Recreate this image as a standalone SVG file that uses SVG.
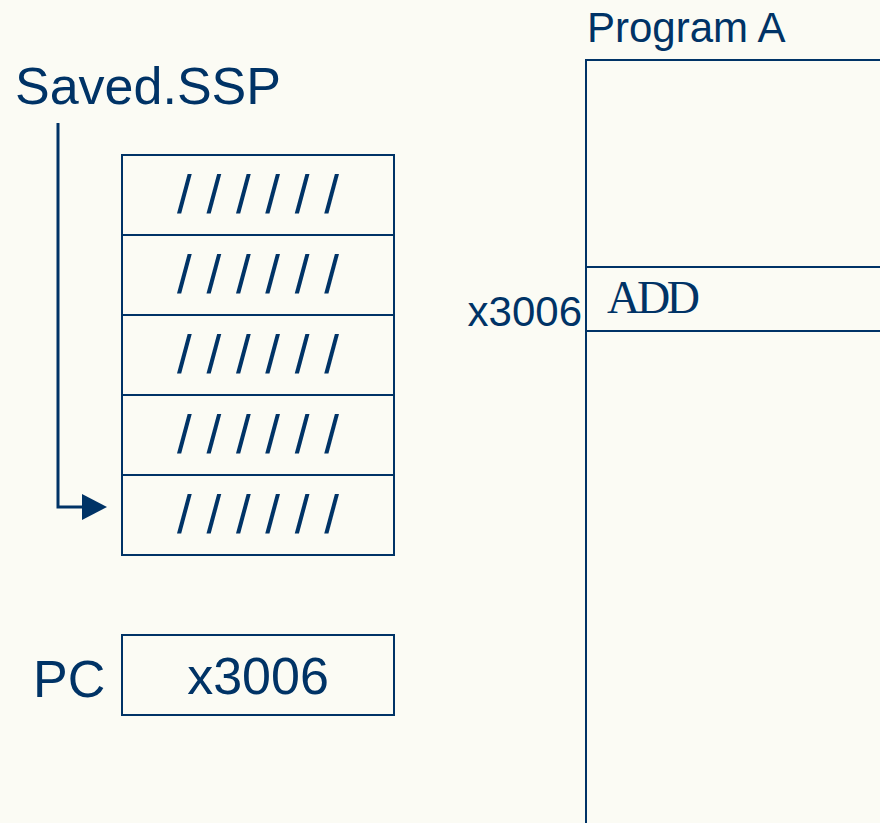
<svg xmlns="http://www.w3.org/2000/svg" width="880" height="823" viewBox="0 0 880 823">
<defs>
<style>
.t{font-family:"Liberation Sans",Arial,sans-serif;fill:#003366}
.m{font-family:"Liberation Serif","Times New Roman",serif;fill:#003366}
.b{fill:none;stroke:#003366;stroke-width:2}
.c{fill:none;stroke:#003366;stroke-width:3}
</style>
<marker id="ah" markerWidth="26" markerHeight="26" refX="0" refY="13" orient="auto" markerUnits="userSpaceOnUse">
<path d="M0,0 L25,13 L0,26 Z" fill="#003366"/>
</marker>
</defs>
<rect width="880" height="823" fill="#fbfbf4"/>
<g id="saved-ssp-label"><text class="t" x="15" y="104" font-size="52">Saved.SSP</text></g>
<g id="stack">
<rect class="b" x="122" y="155" width="272" height="400"/>
<line class="b" x1="122" y1="235" x2="394" y2="235"/>
<line class="b" x1="122" y1="315" x2="394" y2="315"/>
<line class="b" x1="122" y1="395" x2="394" y2="395"/>
<line class="b" x1="122" y1="475" x2="394" y2="475"/>
<text class="t" x="258" y="213" font-size="53" text-anchor="middle">/ / / / / /</text>
<text class="t" x="258" y="293" font-size="53" text-anchor="middle">/ / / / / /</text>
<text class="t" x="258" y="373" font-size="53" text-anchor="middle">/ / / / / /</text>
<text class="t" x="258" y="453" font-size="53" text-anchor="middle">/ / / / / /</text>
<text class="t" x="258" y="533" font-size="53" text-anchor="middle">/ / / / / /</text>
</g>
<g id="pc">
<text class="t" x="33" y="697" font-size="52">PC</text>
<rect class="b" x="122" y="635" width="272" height="80"/>
<text class="t" x="258" y="694" font-size="52" text-anchor="middle">x3006</text>
</g>
<g id="program-a">
<text class="t" x="587" y="42" font-size="42">Program A</text>
<path class="b" d="M586,830 V60 H885"/>
<line class="b" x1="586" y1="267" x2="885" y2="267"/>
<line class="b" x1="586" y1="331" x2="885" y2="331"/>
<text class="m" x="607" y="313" font-size="46" textLength="93" lengthAdjust="spacing">ADD</text>
<text class="t" x="582" y="326" font-size="42" text-anchor="end">x3006</text>
</g>
<g id="connectors">
<path class="c" d="M58,123 V507 H82" marker-end="url(#ah)"/>
</g>
</svg>
